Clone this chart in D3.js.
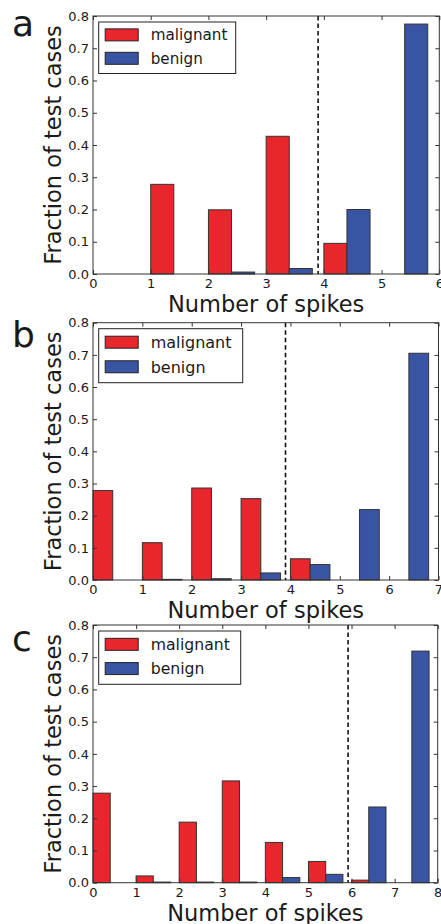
<!DOCTYPE html>
<html>
<head>
<meta charset="utf-8">
<script src="https://cdn.jsdelivr.net/npm/d3@7"></script>
<style>
  html, body { margin: 0; padding: 0; background: #fff; }
  svg { display: block; }
  text { font-family: "DejaVu Sans", sans-serif; fill: #1a1a1a; }
</style>
</head>
<body>
<svg id="fig" width="441" height="924"></svg>
<script>
// ---- data: fraction of test cases per number of spikes ----
const seriesNames = ["malignant", "benign"];
const yTicks = [0, 0.1, 0.2, 0.3, 0.4, 0.5, 0.6, 0.7, 0.8];

const spikesA = [0, 1, 2, 3, 4, 5];
const malignantA = [0, 0.278, 0.199, 0.427, 0.095, 0];
const benignA = [0, 0, 0.006, 0.017, 0.200, 0.775];
const thresholdA = 3.9;
const xTicksA = [0, 1, 2, 3, 4, 5, 6];

const spikesB = [0, 1, 2, 3, 4, 5, 6];
const malignantB = [0.278, 0.116, 0.286, 0.253, 0.066, 0, 0];
const benignB = [0, 0.002, 0.004, 0.022, 0.048, 0.219, 0.705];
const thresholdB = 3.9;
const xTicksB = [0, 1, 2, 3, 4, 5, 6, 7];

const spikesC = [0, 1, 2, 3, 4, 5, 6, 7];
const malignantC = [0.278, 0.021, 0.188, 0.316, 0.125, 0.066, 0.008, 0];
const benignC = [0, 0.002, 0.002, 0.002, 0.016, 0.026, 0.235, 0.719];
const thresholdC = 5.92;
const xTicksC = [0, 1, 2, 3, 4, 5, 6, 7, 8];

const colors = { malignant: "#e8262b", benign: "#3a54a4" };

// ---- panel layout ----
const panels = [
  { letter: "a", spikes: spikesA, malignant: malignantA, benign: benignA, threshold: thresholdA, xTicks: xTicksA,
    left: 93, right: 439.3, top: 16, bottom: 274, letterY: 36, legendW: 137, legendH: 51.5, legendFont: 15.2 },
  { letter: "b", spikes: spikesB, malignant: malignantB, benign: benignB, threshold: thresholdB, xTicks: xTicksB,
    left: 93, right: 438.5, top: 322.7, bottom: 580, letterY: 346.7, legendW: 144, legendH: 54, legendFont: 16 },
  { letter: "c", spikes: spikesC, malignant: malignantC, benign: benignC, threshold: thresholdC, xTicks: xTicksC,
    left: 93, right: 437.7, top: 625, bottom: 882.7, letterY: 650.7, legendW: 142, legendH: 53.3, legendFont: 15.7 }
];

const svg = d3.select("#fig");
const barW = 0.4;     // width of each bar in spike units
const tickLen = 4;

panels.forEach(p => {
  const g = svg.append("g");
  const xMax = p.xTicks[p.xTicks.length - 1];
  const x = d3.scaleLinear().domain([0, xMax]).range([p.left, p.right]);
  const y = d3.scaleLinear().domain([0, 0.8]).range([p.bottom, p.top]);

  // bars: malignant on [k, k+0.4], benign on [k+0.4, k+0.8]
  const rows = [];
  p.spikes.forEach((k, i) => {
    rows.push({ k, v: p.malignant[i], s: "malignant", off: 0 });
    rows.push({ k, v: p.benign[i], s: "benign", off: barW });
  });
  g.selectAll("rect.bar").data(rows.filter(d => d.v > 0)).join("rect")
    .attr("class", "bar")
    .attr("x", d => x(d.k + d.off))
    .attr("width", d => x(d.k + d.off + barW) - x(d.k + d.off))
    .attr("y", d => y(d.v))
    .attr("height", d => y(0) - y(d.v))
    .attr("fill", d => colors[d.s])
    .attr("stroke", "#333")
    .attr("stroke-width", 1);

  // decision threshold
  g.append("line")
    .attr("x1", x(p.threshold)).attr("x2", x(p.threshold))
    .attr("y1", p.top).attr("y2", p.bottom)
    .attr("stroke", "#111").attr("stroke-width", 1.6)
    .attr("stroke-dasharray", "4.5,3");

  // axes with inward ticks
  const fmtY = d3.format(".1f");
  const yAxisL = d3.axisLeft(y).tickValues(yTicks).tickFormat(fmtY).tickSizeInner(-tickLen).tickSizeOuter(0).tickPadding(4);
  const yAxisR = d3.axisRight(y).tickValues(yTicks).tickFormat("").tickSizeInner(-tickLen).tickSizeOuter(0);
  const xAxisB = d3.axisBottom(x).tickValues(p.xTicks).tickFormat(d3.format("d")).tickSizeInner(-tickLen).tickSizeOuter(0).tickPadding(5);
  const xAxisT = d3.axisTop(x).tickValues(p.xTicks).tickFormat("").tickSizeInner(-tickLen).tickSizeOuter(0);

  const styleAxis = sel => {
    sel.select(".domain").remove();
    sel.selectAll(".tick line").attr("stroke", "#333");
    sel.selectAll(".tick text").attr("font-family", "DejaVu Sans").attr("font-size", 13).attr("fill", "#1a1a1a");
  };
  g.append("g").attr("transform", `translate(${p.left},0)`).call(yAxisL).call(styleAxis);
  g.append("g").attr("transform", `translate(${p.right},0)`).call(yAxisR).call(styleAxis);
  g.append("g").attr("transform", `translate(0,${p.bottom})`).call(xAxisB).call(styleAxis);
  g.append("g").attr("transform", `translate(0,${p.top})`).call(xAxisT).call(styleAxis);

  // frame
  g.append("rect")
    .attr("x", p.left).attr("y", p.top)
    .attr("width", p.right - p.left).attr("height", p.bottom - p.top)
    .attr("fill", "none").attr("stroke", "#333").attr("stroke-width", 1);

  // axis titles
  g.append("text")
    .attr("x", (p.left + p.right) / 2).attr("y", p.bottom + 38)
    .attr("text-anchor", "middle").attr("font-size", 22.5)
    .text("Number of spikes");
  g.append("text")
    .attr("transform", `translate(60.5,${(p.top + p.bottom) / 2}) rotate(-90)`)
    .attr("text-anchor", "middle").attr("font-size", 22.5)
    .text("Fraction of test cases");

  // panel letter
  g.append("text")
    .attr("x", 12).attr("y", p.letterY)
    .attr("font-size", 36)
    .text(p.letter);

  // legend
  const lx = p.left + 5.7, ly = p.top + 6;
  const lg = g.append("g").attr("transform", `translate(${lx},${ly})`);
  lg.append("rect").attr("width", p.legendW).attr("height", p.legendH)
    .attr("fill", "#fff").attr("stroke", "#222").attr("stroke-width", 1);
  const rowH = p.legendH * 0.455;
  seriesNames.forEach((name, i) => {
    const cy = p.legendH * 0.25 + i * rowH;
    lg.append("rect")
      .attr("x", 6.5).attr("y", cy - 6).attr("width", 33).attr("height", 12)
      .attr("fill", colors[name]).attr("stroke", "#222").attr("stroke-width", 1);
    lg.append("text")
      .attr("x", 52).attr("y", cy + p.legendFont * 0.36)
      .attr("font-size", p.legendFont)
      .text(name);
  });
});
</script>
</body>
</html>
